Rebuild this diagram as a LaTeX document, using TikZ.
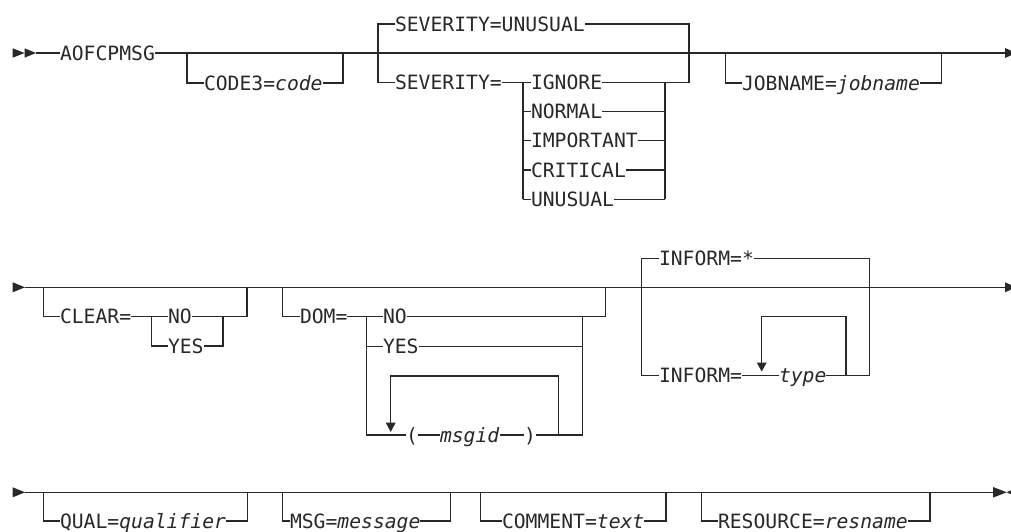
\documentclass[tikz,border=0pt]{standalone}
\usepackage{fontspec}
\setmonofont{DejaVu Sans Mono}
\newcommand\synfont{\ttfamily\fontsize{19.7}{22}\selectfont}
\newcommand\var[1]{\textit{#1}\hspace{2.5pt}}
\definecolor{ink}{RGB}{40,40,40}
\begin{document}
\begin{tikzpicture}[x=1pt,y=-1pt,line width=1.2pt,color=ink,
  lbl/.style={inner sep=0pt,outer sep=0pt,anchor=west,text height=14.3pt,text depth=0pt,font=\synfont,text=ink}]
\useasboundingbox (0,0) rectangle (1011,531);
\fill[white] (0,0) rectangle (1011,531);

% ---------------- Row 1 ----------------
\fill (12.7,48.3) -- (12.7,57.7) -- (24.5,53) -- cycle;
\fill (24.5,48.3) -- (24.5,57.7) -- (36,53) -- cycle;
\node[lbl] (aof) at (60,53) {AOFCPMSG};
\draw (36,53) -- (aof.west);
\draw (aof.east) -- (1005,53);
\fill (1005,48) -- (1005,58) -- (1016,53) -- cycle;

\node[lbl] (code3) at (204,83) {CODE3=\var{code}};
\draw (187,53) -- (187,83) -- (code3.west);
\draw (code3.east) -- (343,83) -- (343,53);

\node[lbl] (sevdef) at (395,24) {SEVERITY=UNUSUAL};
\node[lbl] (sev) at (395,82.3) {SEVERITY=};
\draw (sevdef.west) -- (378,24) -- (378,82.3) -- (sev.west);
\node[lbl] (ignore) at (531,82.3) {IGNORE};
\node[lbl] (normal) at (531,111.5) {NORMAL};
\node[lbl] (important) at (531,140.7) {IMPORTANT};
\node[lbl] (critical) at (531,169.9) {CRITICAL};
\node[lbl] (unusual) at (531,199.1) {UNUSUAL};
\draw (sevdef.east) -- (689,24) -- (689,82.3) -- (ignore.east);
\draw (sev.east) -- (ignore.west);
\draw (523,82.3) -- (523,199.1);
\draw (665,82.3) -- (665,199.1);
\foreach \n/\y in {normal/111.5,important/140.7,critical/169.9,unusual/199.1}{
  \draw (523,\y) -- (\n.west);
  \draw (\n.east) -- (665,\y);
}

\node[lbl] (job) at (742,83) {JOBNAME=\var{jobname}};
\draw (725.7,53) -- (725.7,83) -- (job.west);
\draw (job.east) -- (941.7,83) -- (941.7,53);

% ---------------- Row 2 ----------------
\fill (12.7,282.3) -- (12.7,292.3) -- (25,287.3) -- cycle;
\draw (25,287.3) -- (1005,287.3);
\fill (1005,282.3) -- (1005,292.3) -- (1016,287.3) -- cycle;

\node[lbl] (clear) at (60,316.7) {CLEAR=};
\node[lbl] (cno) at (168,316.7) {NO};
\node[lbl] (cyes) at (168,346) {YES};
\draw (43.3,287.3) -- (43.3,316.7) -- (clear.west);
\draw (clear.east) -- (cno.west);
\draw (cno.east) -- (247,316.7) -- (247,287.3);
\draw (151.7,316.7) -- (151.7,346) -- (cyes.west);
\draw (cyes.east) -- (223,346) -- (223,316.7);

\node[lbl] (dom) at (300,316.7) {DOM=};
\node[lbl] (dno) at (383,316.7) {NO};
\node[lbl] (dyes) at (383,346.3) {YES};
\node[lbl] (lp) at (406,435) {(};
\node[lbl] (msgid) at (440,435) {\var{msgid}};
\node[lbl] (rp) at (524,435) {)};
\draw (282.7,287.3) -- (282.7,316.7) -- (dom.west);
\draw (dom.east) -- (dno.west);
\draw (dno.east) -- (605.7,316.7) -- (605.7,287.3);
\draw (366.7,316.7) -- (366.7,435) -- (lp.west);
\draw (366.7,346.3) -- (dyes.west);
\draw (dyes.east) -- (582.3,346.3);
\draw (lp.east) -- (msgid.west);
\draw (msgid.east) -- (rp.west);
\draw (rp.east) -- (582.3,435) -- (582.3,316.7);
\draw (558.3,435) -- (558.3,376) -- (390.7,376) -- (390.7,424);
\fill (385.7,422.5) -- (395.7,422.5) -- (390.7,432) -- cycle;

\node[lbl] (inf1) at (659,258.3) {INFORM=*};
\node[lbl] (inf2) at (659,375.7) {INFORM=};
\node[lbl] (type) at (779,375.7) {\var{type}};
\draw (inf1.west) -- (641.7,258.3) -- (641.7,375.7) -- (inf2.west);
\draw (inf1.east) -- (869.3,258.3) -- (869.3,375.7) -- (type.east);
\draw (inf2.east) -- (type.west);
\draw (846,375.7) -- (846,316.7) -- (761.7,316.7) -- (761.7,364);
\fill (756.7,362.5) -- (766.7,362.5) -- (761.7,371.5) -- cycle;

% ---------------- Row 3 ----------------
\fill (12.7,487.3) -- (12.7,497.3) -- (25,492.3) -- cycle;
\draw (25,492.3) -- (993,492.3);
\fill (993,487) -- (993,497.6) -- (1006.7,492.3) -- cycle;
\fill (1006.7,492.3) -- (1018,487) -- (1018,497.6) -- cycle;

\node[lbl] (qual) at (60,521) {QUAL=\var{qualifier}};
\draw (43.3,492.3) -- (43.3,521) -- (qual.west);
\draw (qual.east) -- (247.3,521) -- (247.3,492.3);

\node[lbl] (msg) at (290,521) {MSG=\var{message}};
\draw (282.7,492.3) -- (282.7,521) -- (msg.west);
\draw (msg.east) -- (450.7,521) -- (450.7,492.3);

\node[lbl] (comment) at (502,521) {COMMENT=\var{text}};
\draw (480.7,492.3) -- (480.7,521) -- (comment.west);
\draw (comment.east) -- (666,521) -- (666,492.3);

\node[lbl] (res) at (718,521) {RESOURCE=\var{resname}};
\draw (701.7,492.3) -- (701.7,521) -- (res.west);
\draw (res.east) -- (930,521) -- (930,492.3);
\end{tikzpicture}
\end{document}
